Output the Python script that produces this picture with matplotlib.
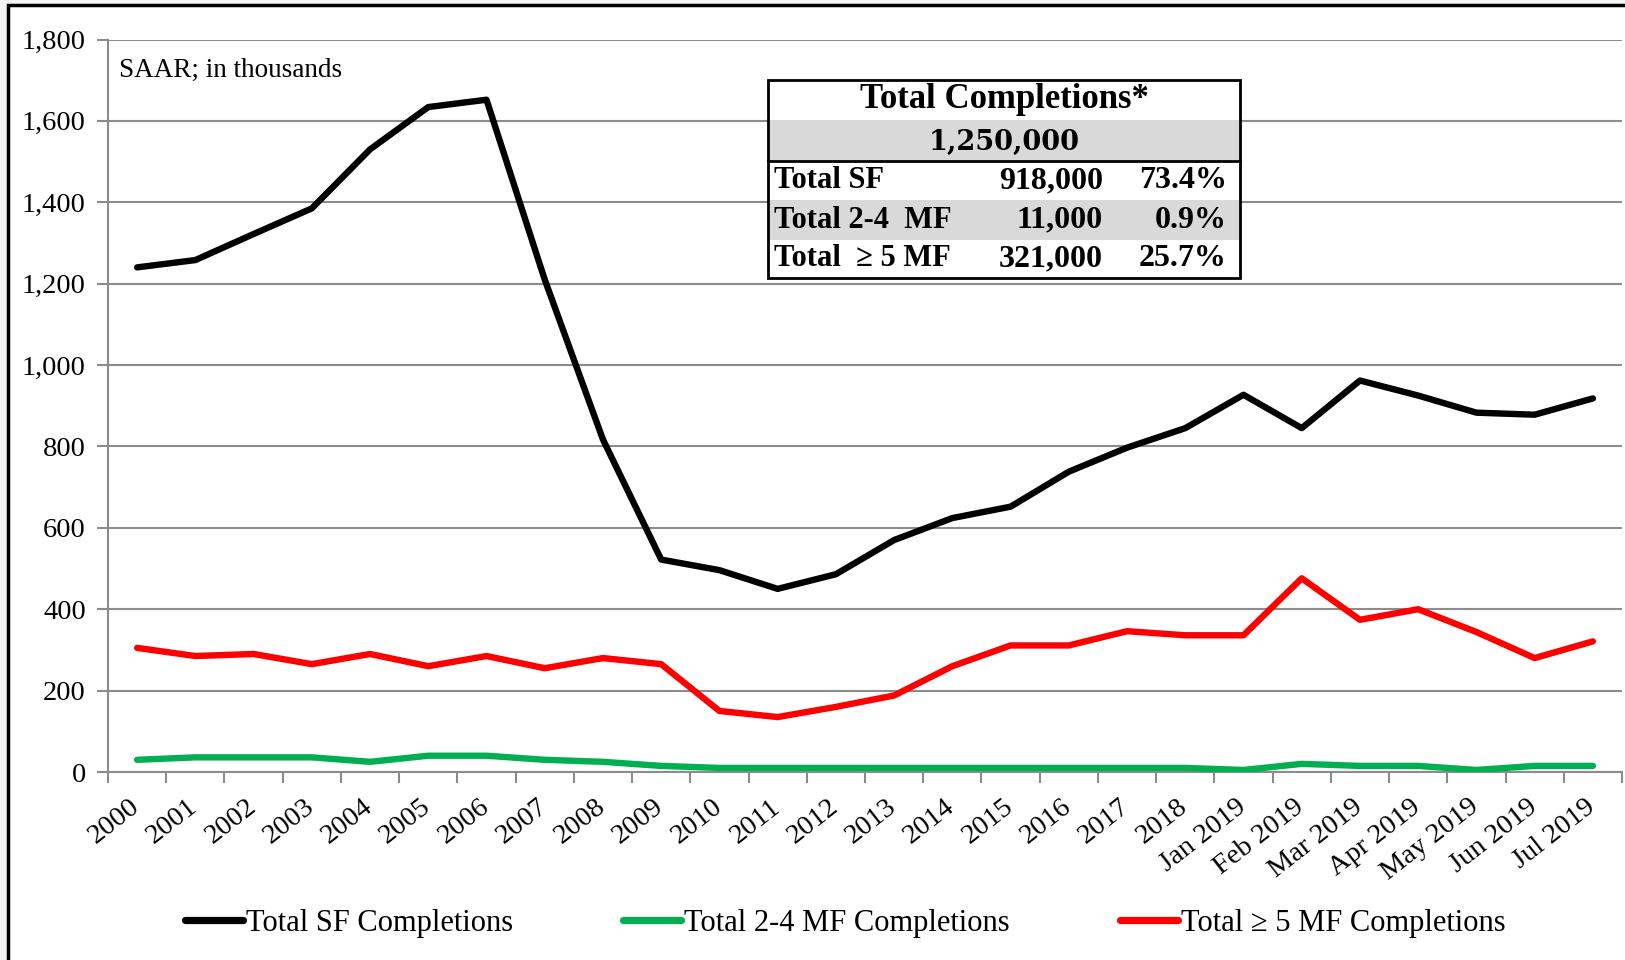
import matplotlib
matplotlib.use("Agg")
import matplotlib.pyplot as plt
from matplotlib.patches import Rectangle
from matplotlib.ticker import FuncFormatter, FixedLocator
from matplotlib.transforms import ScaledTranslation
import numpy as np

categories = [str(y) for y in range(2000, 2019)] + [
    "Jan 2019", "Feb 2019", "Mar 2019", "Apr 2019", "May 2019", "Jun 2019", "Jul 2019"]

sf = [1240, 1258, 1322, 1385, 1530, 1634, 1652, 1210, 817, 522, 496, 450, 486, 570,
      624, 652, 738, 797, 845, 927, 845, 962, 925, 883, 878, 918]
mf24 = [30, 36, 36, 36, 25, 40, 40, 30, 25, 15, 10, 10, 10, 10, 10, 10, 10, 10, 10,
        5, 20, 15, 15, 5, 15, 15]
mf5 = [305, 285, 290, 265, 290, 260, 285, 255, 280, 265, 150, 135, 160, 188, 260,
       311, 311, 346, 336, 336, 476, 374, 400, 344, 280, 321]

series_labels = ["Total SF Completions", "Total 2-4 MF Completions", "Total \u2265 5 MF Completions"]
series_colors = ["#000000", "#00B050", "#FF0000"]

table_title = "Total Completions*"
table_total = "1,250,000"
table_rows = [("Total SF", "918,000", "73.4%"),
              ("Total 2-4  MF", "11,000", "0.9%"),
              ("Total  \u2265 5 MF", "321,000", "25.7%")]

plt.rcParams['font.family'] = ['Liberation Serif', 'DejaVu Serif']

W, H = 1625, 960
fig = plt.figure(figsize=(W / 100, H / 100), dpi=100)
fig.patch.set_facecolor("#f4f4f4")
# white chart box with black border
fig.patches.append(Rectangle((8 / W, -0.05), 1.1, (H - 5) / H + 0.05,
                             transform=fig.transFigure, facecolor="white",
                             edgecolor="black", linewidth=2.5, zorder=-5))

ax = fig.add_axes([108 / W, 1 - 772 / H, (1622 - 108) / W, (772 - 39.5) / H])
ax.set_zorder(2)
ax.set_facecolor("none")
x = np.arange(len(categories))
for vals, col, lab in zip([sf, mf24, mf5], series_colors, series_labels):
    ax.plot(x, vals, color=col, lw=4.6, label=lab, solid_joinstyle="round",
            solid_capstyle="round", zorder=3)

ax.set_xlim(-0.5, len(categories) - 0.5)
ax.set_ylim(0, 1800)
ax.set_yticks(np.arange(0, 1801, 200))
ax.yaxis.set_major_formatter(FuncFormatter(lambda v, p: f"{int(v):,}"))
ax.grid(axis="y", color="#8c8c8c", lw=1.5, zorder=0)
ax.set_axisbelow(True)
for s in ["top", "right"]:
    ax.spines[s].set_visible(False)
for s in ["left", "bottom"]:
    ax.spines[s].set_color("#8c8c8c")
    ax.spines[s].set_linewidth(1.5)

ax.xaxis.set_major_locator(FixedLocator(np.arange(-0.5, len(categories), 1.0)))
ax.xaxis.set_major_formatter(FuncFormatter(lambda v, p: ""))
ax.xaxis.set_minor_locator(FixedLocator(x))
ax.set_xticks(x, categories, minor=True)
ax.tick_params(axis="x", which="major", length=8, width=1.5, color="#8c8c8c", direction="out")
ax.tick_params(axis="x", which="minor", length=0, labelsize=20.5, pad=16)
shift = ScaledTranslation(-8 / 100, 0, fig.dpi_scale_trans)
for lbl in ax.get_xticklabels(minor=True):
    lbl.set_rotation(38)
    lbl.set_ha("right")
    lbl.set_va("top")
    lbl.set_rotation_mode("anchor")
    lbl.set_transform(lbl.get_transform() + shift)
ax.tick_params(axis="y", length=8, width=1.5, color="#8c8c8c", labelsize=20.5, pad=8)

ax.text(0.007, 0.958, "SAAR; in thousands", transform=ax.transAxes, fontsize=19.5,
        ha="left", va="center")

# summary table (figure coordinates in pixels)
def fx(px):
    return px / W

def fy(py):
    return 1 - py / H

tl, tr = 768, 1240
rows_y = [80, 120, 161, 200, 240, 278]
fills = ["white", "#d9d9d9", "white", "#d9d9d9", "white"]
for i in range(5):
    fig.patches.append(Rectangle((fx(tl), fy(rows_y[i + 1])), fx(tr) - fx(tl),
                                 fy(rows_y[i]) - fy(rows_y[i + 1]),
                                 transform=fig.transFigure, facecolor=fills[i],
                                 edgecolor="none", zorder=5))
fig.patches.append(Rectangle((fx(tl), fy(rows_y[-1])), fx(tr) - fx(tl),
                             fy(rows_y[0]) - fy(rows_y[-1]), transform=fig.transFigure,
                             facecolor="none", edgecolor="black", lw=2, zorder=6))
fig.add_artist(plt.Line2D([fx(tl), fx(tr)], [fy(rows_y[2]), fy(rows_y[2])],
                          transform=fig.transFigure, color="black", lw=2, zorder=6))

def rc(i):
    return fy((rows_y[i] + rows_y[i + 1]) / 2)

fig.text(fx((tl + tr) / 2), rc(0), table_title, ha="center", va="center",
         fontsize=25, fontweight="bold", zorder=7)
fig.text(fx((tl + tr) / 2), rc(1) - 0.002, table_total, ha="center", va="center",
         fontsize=19.5, fontweight="bold", family=["DejaVu Serif"], zorder=7)
for k, (a, b, c) in enumerate(table_rows):
    fig.text(fx(774), rc(2 + k), a, ha="left", va="center", fontsize=22,
             fontweight="bold", zorder=7)
    fig.text(fx(1103), rc(2 + k), b, ha="right", va="center", fontsize=23,
             fontweight="bold", zorder=7)
    fig.text(fx(1227), rc(2 + k), c, ha="right", va="center", fontsize=23,
             fontweight="bold", zorder=7)

handles, labels = ax.get_legend_handles_labels()
leg = fig.legend(handles, labels, loc="center", bbox_to_anchor=(0.52, 1 - 923 / H), ncol=3,
                 frameon=False, fontsize=22, handlelength=1.9, handletextpad=0.1,
                 columnspacing=3.6)
for ln in leg.get_lines():
    ln.set_linewidth(5.2)

fig.savefig("out.png", dpi=100)
